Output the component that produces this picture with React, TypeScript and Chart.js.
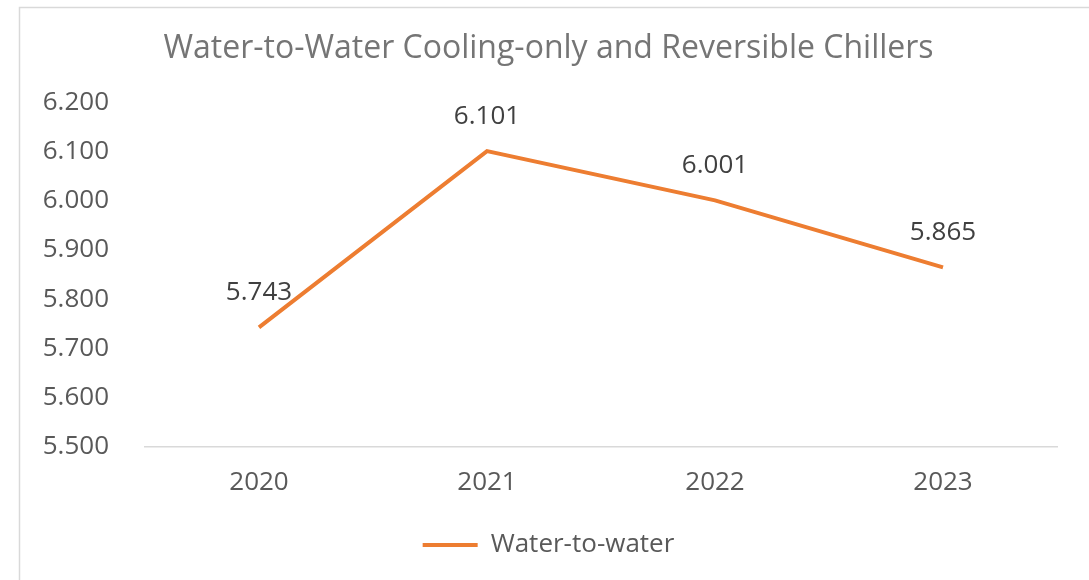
import React, { useEffect, useRef } from "react";
import { Chart, registerables } from "chart.js";

Chart.register(...registerables);

const categories = ["2020", "2021", "2022", "2023"];
const seriesName = "Water-to-water";
const seriesValues = [5.743, 6.101, 6.001, 5.865];
const yTicks = [5.5, 5.6, 5.7, 5.8, 5.9, 6.0, 6.1, 6.2];
const titleText = "Water-to-Water Cooling-only and Reversible Chillers";

const FONT = "'Open Sans', 'DejaVu Sans', sans-serif";
const ORANGE = "#ED7D31";
const TEXT = "#595959";

const framePlugin = {
  id: "frame",
  beforeDraw(chart: any) {
    const ctx = chart.ctx;
    ctx.save();
    ctx.fillStyle = "#ffffff";
    ctx.fillRect(0, 0, chart.width, chart.height);
    ctx.strokeStyle = "#d9d9d9";
    ctx.lineWidth = 1.5;
    ctx.strokeRect(19.5, 7.5, chart.width - 3, chart.height + 10);
    ctx.restore();
  },
};

const dataLabelPlugin = {
  id: "dataLabels",
  afterDatasetsDraw(chart: any) {
    const ctx = chart.ctx;
    ctx.save();
    ctx.font = `26px ${FONT}`;
    ctx.fillStyle = "#404040";
    ctx.textAlign = "center";
    ctx.textBaseline = "middle";
    chart.data.datasets.forEach((ds: any, di: number) => {
      const meta = chart.getDatasetMeta(di);
      meta.data.forEach((el: any, i: number) => {
        ctx.fillText(Number(ds.data[i]).toFixed(3), el.x, el.y - 35);
      });
    });
    ctx.restore();
  },
};

export default function App() {
  const ref = useRef<HTMLCanvasElement | null>(null);
  useEffect(() => {
    if (!ref.current) return;
    const chart = new Chart(ref.current, {
      type: "line",
      data: {
        labels: categories,
        datasets: [
          {
            label: seriesName,
            data: seriesValues,
            borderColor: ORANGE,
            backgroundColor: ORANGE,
            borderWidth: 4,
            pointRadius: 0,
            tension: 0,
          },
        ],
      },
      options: {
        responsive: false,
        animation: false,
        layout: { padding: { left: 40, right: 32, top: 0, bottom: 12 } },
        plugins: {
          title: {
            display: true,
            text: titleText,
            color: "#757575",
            font: { family: FONT, size: 32, weight: "normal" },
            padding: { top: 30, bottom: 34 },
          },
          legend: {
            display: true,
            position: "bottom",
            labels: {
              color: TEXT,
              font: { family: FONT, size: 26 },
              boxWidth: 55,
              boxHeight: 4,
              padding: 10,
              generateLabels: (chart: any) =>
                chart.data.datasets.map((ds: any, i: number) => ({
                  text: ds.label,
                  fillStyle: ds.borderColor,
                  strokeStyle: ds.borderColor,
                  lineWidth: 0,
                  hidden: false,
                  datasetIndex: i,
                  fontColor: TEXT,
                })),
            },
          },
          tooltip: { enabled: false },
        },
        scales: {
          x: {
            offset: true,
            grid: { display: false, drawTicks: false },
            border: { display: true, color: "#d9d9d9", width: 1.5 },
            ticks: { color: TEXT, font: { family: FONT, size: 26 }, padding: 20 },
            afterFit: (s: any) => {
              s.height = 75;
            },
          },
          y: {
            min: yTicks[0],
            max: yTicks[yTicks.length - 1],
            grid: { display: false, drawTicks: false },
            border: { display: false },
            afterBuildTicks: (s: any) => {
              s.ticks = yTicks.map((v) => ({ value: v }));
            },
            ticks: {
              color: TEXT,
              font: { family: FONT, size: 26 },
              padding: 36,
              callback: (v: any) => Number(v).toFixed(3),
            },
            afterFit: (s: any) => {
              s.width = 105;
            },
          },
        },
      },
      plugins: [framePlugin, dataLabelPlugin],
    });
    return () => chart.destroy();
  }, []);
  return (
    <div style={{ position: "fixed", left: 0, top: 0, width: 1089, height: 580, background: "#fff" }}>
      <canvas ref={ref} width={1089} height={580} />
    </div>
  );
}
